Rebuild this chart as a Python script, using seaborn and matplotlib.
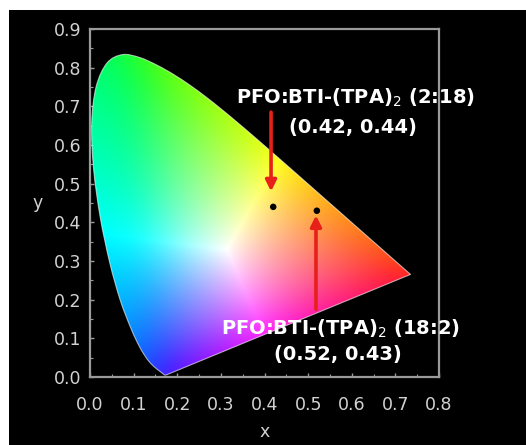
import numpy as np
import pandas as pd
import matplotlib
matplotlib.use("Agg")
import matplotlib.pyplot as plt
from matplotlib.patches import PathPatch, Rectangle
from matplotlib.path import Path
import seaborn as sns

# CIE 1931 2-degree spectral locus (chromaticity x, y), 380-700 nm
locus_x = [0.1741, 0.1738, 0.1733, 0.1726, 0.1714, 0.1703, 0.1689, 0.1669,
           0.1644, 0.1611, 0.1566, 0.1510, 0.1440, 0.1355, 0.1241, 0.1096,
           0.0913, 0.0687, 0.0454, 0.0235, 0.0082, 0.0039, 0.0139, 0.0389,
           0.0743, 0.1142, 0.1547, 0.1929, 0.2296, 0.2658, 0.3016, 0.3373,
           0.3731, 0.4087, 0.4441, 0.4788, 0.5125, 0.5448, 0.5752, 0.6029,
           0.6270, 0.6482, 0.6658, 0.6915, 0.7079, 0.7190, 0.7260, 0.7300,
           0.7334, 0.7347]
locus_y = [0.0050, 0.0049, 0.0048, 0.0048, 0.0051, 0.0058, 0.0069, 0.0086,
           0.0109, 0.0138, 0.0177, 0.0227, 0.0297, 0.0399, 0.0578, 0.0868,
           0.1327, 0.2007, 0.2950, 0.4127, 0.5384, 0.6548, 0.7502, 0.8120,
           0.8338, 0.8262, 0.8059, 0.7816, 0.7543, 0.7243, 0.6923, 0.6589,
           0.6245, 0.5896, 0.5547, 0.5202, 0.4866, 0.4544, 0.4242, 0.3965,
           0.3725, 0.3514, 0.3340, 0.3083, 0.2920, 0.2809, 0.2740, 0.2700,
           0.2666, 0.2653]

# Measured CIE coordinates
sample_names = ["PFO:BTI-(TPA)$_2$ (2:18)", "PFO:BTI-(TPA)$_2$ (18:2)"]
cie_x = [0.42, 0.52]
cie_y = [0.44, 0.43]

x_ticks = [0.0, 0.1, 0.2, 0.3, 0.4, 0.5, 0.6, 0.7, 0.8]
y_ticks = [0.0, 0.1, 0.2, 0.3, 0.4, 0.5, 0.6, 0.7, 0.8, 0.9]

# wide-gamut display primaries used for colouring the diagram (x, y)
prim_x = [0.7347, 0.1152, 0.1566]
prim_y = [0.2653, 0.8264, 0.0177]
white_xy = (0.3127, 0.3290)

sns.set_theme(style="dark", rc={"axes.facecolor": "black"})
plt.rcParams["font.family"] = ["DejaVu Sans"]

fig = plt.figure(figsize=(5.26, 4.45), dpi=100, facecolor="white")
fig.patches.append(Rectangle((9 / 526, 0), 1, 1 - 10 / 445, transform=fig.transFigure,
                             facecolor="black", edgecolor="none", zorder=-10))
ax = fig.add_axes([90 / 526, 1 - 377 / 445, 349 / 526, 348 / 445])
ax.set_facecolor("black")


def smooth_locus_path(xs, ys):
    """Smooth (Catmull-Rom as Bezier) curve through the locus points, closed by the purple line."""
    P = np.column_stack([xs, ys])
    n = len(P)
    verts = [P[0]]
    codes = [Path.MOVETO]
    for i in range(n - 1):
        p0 = P[max(i - 1, 0)]
        p1 = P[i]
        p2 = P[i + 1]
        p3 = P[min(i + 2, n - 1)]
        c1 = p1 + (p2 - p0) / 6.0
        c2 = p2 - (p3 - p1) / 6.0
        verts += [c1, c2, p2]
        codes += [Path.CURVE4] * 3
    verts.append(P[0])
    codes.append(Path.LINETO)
    verts.append(P[0])
    codes.append(Path.CLOSEPOLY)
    return Path(np.array(verts), codes)


def xy_to_XYZ(x, y):
    return np.array([x / y, 1.0, (1 - x - y) / y])


def blur(img, sigma):
    r = int(3 * sigma)
    k = np.exp(-0.5 * (np.arange(-r, r + 1) / sigma) ** 2)
    k /= k.sum()
    pad = np.pad(img, ((r, r), (r, r), (0, 0)), mode="edge")
    out = np.apply_along_axis(lambda v: np.convolve(v, k, mode="valid"), 0, pad)
    out = np.apply_along_axis(lambda v: np.convolve(v, k, mode="valid"), 1, out)
    return out


# RGB <- XYZ matrix for the chosen primaries
P = np.column_stack([xy_to_XYZ(px, py) for px, py in zip(prim_x, prim_y)])
S = np.linalg.solve(P, xy_to_XYZ(*white_xy))
M = np.linalg.inv(P * S)

# Chromaticity colour fill
gx = np.linspace(0.0, 0.8, 320)
gy = np.linspace(0.0005, 0.9, 360)
X, Y = np.meshgrid(gx, gy)
XYZ = np.stack([X / Y, np.ones_like(X), (1 - X - Y) / Y])
rgb = np.einsum("ij,jkl->kli", M, XYZ)
rgb = rgb - np.minimum(rgb.min(axis=2, keepdims=True), 0)
rgb = rgb / np.maximum(rgb.max(axis=2, keepdims=True), 1e-9)
rgb = blur(rgb, 15)
rgb = rgb / np.maximum(rgb.max(axis=2, keepdims=True), 1e-9)
rgb = np.clip(rgb, 0, 1) ** 0.55
im = ax.imshow(rgb, origin="lower", extent=(0.0, 0.8, 0.0, 0.9), aspect="auto",
               interpolation="bilinear", zorder=1)
lpath = smooth_locus_path(locus_x, locus_y)
clip = PathPatch(lpath, transform=ax.transData, facecolor="none", edgecolor="none")
ax.add_patch(clip)
im.set_clip_path(clip)
ax.add_patch(PathPatch(lpath, facecolor="none", edgecolor="white", lw=0.8, alpha=0.6, zorder=2))

pts = pd.DataFrame({"x": cie_x, "y": cie_y, "name": sample_names})
sns.scatterplot(data=pts, x="x", y="y", ax=ax, color="black", s=22,
                edgecolor="none", zorder=5, legend=False)

# arrows
ax.annotate("", xy=(cie_x[0] - 0.005, cie_y[0] + 0.04), xytext=(cie_x[0] - 0.005, cie_y[0] + 0.245),
            arrowprops=dict(arrowstyle="-|>", color="#e8201a", lw=2.6, mutation_scale=16,
                            shrinkA=0, shrinkB=0), zorder=4)
ax.annotate("", xy=(cie_x[1] - 0.002, cie_y[1] - 0.012), xytext=(cie_x[1] - 0.002, cie_y[1] - 0.255),
            arrowprops=dict(arrowstyle="-|>", color="#e8201a", lw=2.6, mutation_scale=16,
                            shrinkA=0, shrinkB=0), zorder=4)

tkw = dict(color="white", fontsize=14, fontweight="bold", ha="center", va="center",
           family=["DejaVu Sans"], zorder=6)
ax.text(0.608, 0.723, sample_names[0], **tkw)
ax.text(0.602, 0.646, f"({cie_x[0]:.2f}, {cie_y[0]:.2f})", **tkw)
ax.text(0.573, 0.124, sample_names[1], **tkw)
ax.text(0.568, 0.057, f"({cie_x[1]:.2f}, {cie_y[1]:.2f})", **tkw)

ax.set_xlim(0.0, 0.8)
ax.set_ylim(0.0, 0.9)
ax.set_xticks(x_ticks)
ax.set_yticks(y_ticks)
ax.set_xticklabels([f"{v:.1f}" for v in x_ticks])
ax.set_yticklabels([f"{v:.1f}" for v in y_ticks])
ax.set_xticks(np.arange(0.05, 0.8, 0.1), minor=True)
ax.set_yticks(np.arange(0.05, 0.9, 0.1), minor=True)

spine_col = "#9a9a9a"
for s in ax.spines.values():
    s.set_visible(True)
    s.set_color(spine_col)
    s.set_linewidth(1.6)
ax.tick_params(axis="both", which="major", direction="in", length=3, width=1,
               color=spine_col, labelcolor="#d2d2d2", labelsize=12.5,
               bottom=True, left=True)
ax.tick_params(axis="both", which="minor", direction="in", length=2, width=0.8,
               color=spine_col, bottom=True, left=True)
ax.tick_params(axis="x", pad=14)
ax.tick_params(axis="y", pad=6)
ax.grid(False)

ax.set_xlabel("x", color="#d2d2d2", fontsize=12.5, labelpad=6)
ax.set_ylabel("y", color="#d2d2d2", fontsize=12.5, rotation=0, labelpad=12, va="center")

fig.savefig("out.png", dpi=100, facecolor=fig.get_facecolor())
